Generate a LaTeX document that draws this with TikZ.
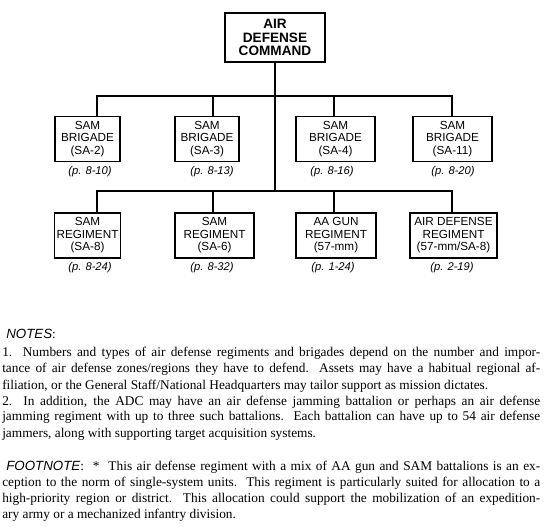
\documentclass[tikz,border=0pt]{standalone}
\usepackage{fontspec}
\setmainfont{Liberation Serif}
\newfontfamily\arial{Liberation Sans}
\newcommand\jl[2]{\makebox[#1][s]{#2}}
\begin{document}
\begin{tikzpicture}[x=0.75pt,y=-0.75pt,
  box/.style={draw,line width=0.9pt,align=center,font=\arial\fontsize{8.8}{9.4}\selectfont,inner sep=0pt,minimum height=33.75pt},
  cmd/.style={draw,line width=1.2pt,align=center,font=\arial\bfseries\fontsize{10.2}{10.3}\selectfont,inner sep=0pt,minimum width=75pt,minimum height=36.75pt},
  pg/.style={font=\arial\itshape\fontsize{8.4}{9}\selectfont,inner sep=0pt},
  conn/.style={line width=0.8pt},
  body/.style={anchor=base west,inner sep=0pt,font=\fontsize{10}{12}\selectfont}]
\useasboundingbox (0,0) rectangle (550,527);
% command
\node[cmd] (adc) at (275,37.5) {AIR\\DEFENSE\\COMMAND};
% brigades
\node[box,minimum width=48.75pt] (b1) at (87.5,139) {SAM\\BRIGADE\\(SA-2)};
\node[box,minimum width=48pt]    (b2) at (207,139) {SAM\\BRIGADE\\(SA-3)};
\node[box,minimum width=59.25pt] (b3) at (335.5,139) {SAM\\BRIGADE\\(SA-4)};
\node[box,minimum width=59.25pt] (b4) at (452.5,139) {SAM\\BRIGADE\\(SA-11)};
% regiments
\node[box,minimum width=49.5pt]  (r1) at (87.5,235.5) {SAM\\REGIMENT\\(SA-8)};
\node[box,minimum width=59.25pt] (r2) at (214.5,235.5) {SAM\\REGIMENT\\(SA-6)};
\node[box,minimum width=60pt]    (r3) at (336,235.5) {AA GUN\\REGIMENT\\(57-mm)};
\node[box,minimum width=65.25pt] (r4) at (453.5,235.5) {AIR DEFENSE\\REGIMENT\\(57-mm/SA-8)};
% page labels
\node[pg] (pb1) at (90,172) {(p. 8-10)};
\node[pg] (pb2) at (212,172) {(p. 8-13)};
\node[pg] (pb3) at (332,172) {(p. 8-16)};
\node[pg] (pb4) at (453,172) {(p. 8-20)};
\node[pg] (pr1) at (90,268) {(p. 8-24)};
\node[pg] (pr2) at (212,268) {(p. 8-32)};
\node[pg] (pr3) at (333,268) {(p. 1-24)};
\node[pg] (pr4) at (452,268) {(p. 2-19)};
% connectors
\coordinate (c1) at (97,0);
\coordinate (c2) at (213,0);
\coordinate (c3) at (334,0);
\coordinate (c4) at (452,0);
\coordinate (j1) at (275,96);
\coordinate (j2) at (275,191);
\draw[conn] (adc.south) -- (j2);
\draw[conn] (b1.north -| c1) |- (j1) -| (b4.north -| c4);
\draw[conn] (b2.north -| c2) -- (c2 |- j1);
\draw[conn] (b3.north -| c3) -- (c3 |- j1);
\draw[conn] (r1.north -| c1) |- (j2) -| (r4.north -| c4);
\draw[conn] (r2.north -| c2) -- (c2 |- j2);
\draw[conn] (r3.north -| c3) -- (c3 |- j2);
% notes
\node[body] (notes) at (6,339) {\arial\itshape NOTES\upshape\rmfamily:};
\node[body] (n1) at (2,357) {\jl{403.5pt}{1.\ \ Numbers and types of air defense regiments and brigades depend on the number and impor-}};
\node[body] (n2) at (2,373) {\jl{403.5pt}{tance of air defense zones/regions they have to defend.\ \ Assets may have a habitual regional af-}};
\node[body] (n3) at (2,389) {filiation, or the General Staff/National Headquarters may tailor support as mission dictates.};
\node[body] (n4) at (2,405) {\jl{403.5pt}{2.\ \ In addition, the ADC may have an air defense jamming battalion or perhaps an air defense}};
\node[body] (n5) at (2,421) {\jl{403.5pt}{jamming regiment with up to three such battalions.\ \ Each battalion can have up to 54 air defense}};
\node[body] (n6) at (2,437) {jammers, along with supporting target acquisition systems.};
% footnote
\node[body] (f1) at (6,470) {\jl{400.5pt}{{\arial\itshape FOOTNOTE}:\ \ *\ \ This air defense regiment with a mix of AA gun and SAM battalions is an ex-}};
\node[body] (f2) at (2,486) {\jl{403.5pt}{ception to the norm of single-system units.\ \ This regiment is particularly suited for allocation to a}};
\node[body] (f3) at (2,502) {\jl{403.5pt}{high-priority region or district.\ \ This allocation could support the mobilization of an expedition-}};
\node[body] (f4) at (2,518) {ary army or a mechanized infantry division.};
\end{tikzpicture}
\end{document}
